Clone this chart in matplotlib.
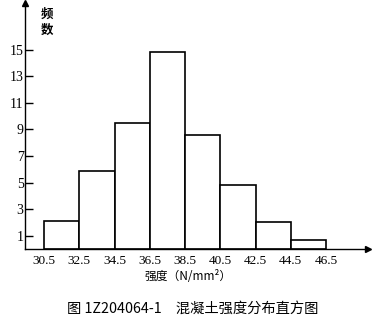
import matplotlib
matplotlib.use("Agg")
import matplotlib.pyplot as plt
import numpy as np

# Data
bin_edges = [30.5, 32.5, 34.5, 36.5, 38.5, 40.5, 42.5, 44.5, 46.5]
frequencies = [2.1, 5.9, 9.5, 14.8, 8.6, 4.8, 2.0, 0.7]
y_ticks = [1, 3, 5, 7, 9, 11, 13, 15]
x_tick_labels = ["30.5", "32.5", "34.5", "36.5", "38.5", "40.5", "42.5", "44.5", "46.5"]
y_label = "频\n数"
x_label = "强度（N/mm²）"
caption = "图 1Z204064-1　混凝土强度分布直方图"

cjk = ["Noto Sans CJK SC", "DejaVu Sans"]
serif = ["Liberation Serif", "DejaVu Serif"]

fig = plt.figure(figsize=(3.85, 3.22), dpi=100)
fig.patch.set_facecolor("white")
ax = fig.add_axes([25/385, 1 - 249/322, (368 - 25)/385, (249 - 3)/322])

widths = np.diff(bin_edges)
ax.bar(bin_edges[:-1], frequencies, width=widths, align="edge",
       facecolor="white", edgecolor="black", linewidth=1.2)

ax.set_xlim(29.42, 48.88)
ax.set_ylim(0, 18.5)

for s in ["top", "right"]:
    ax.spines[s].set_visible(False)
for s in ["left", "bottom"]:
    ax.spines[s].set_linewidth(1.0)

# arrows
ax.plot(1, 0, marker=">", color="black", markersize=5, transform=ax.transAxes, clip_on=False)
ax.plot(0, 1, marker="^", color="black", markersize=5, transform=ax.transAxes, clip_on=False)

ax.set_yticks(y_ticks)
ax.set_yticklabels([str(v) for v in y_ticks], fontfamily=serif, fontsize=10)
ax.tick_params(axis="y", direction="in", length=6, width=1.0, pad=1)

ax.set_xticks(bin_edges)
ax.set_xticklabels(x_tick_labels, fontfamily=serif, fontsize=9.5)
ax.tick_params(axis="x", length=0, pad=4)

fig.text(47/385, 1 - 22/322, y_label, family=cjk, fontsize=9, ha="center", va="center",
         linespacing=1.3, fontweight="bold")
fig.text(188/385, 1 - 277/322, x_label, family=cjk, fontsize=8.5, ha="center", va="center")
fig.text(193/385, 1 - 309/322, caption, family=cjk, fontsize=10.3, ha="center", va="center")

fig.savefig("out.png", dpi=100, facecolor="white")
